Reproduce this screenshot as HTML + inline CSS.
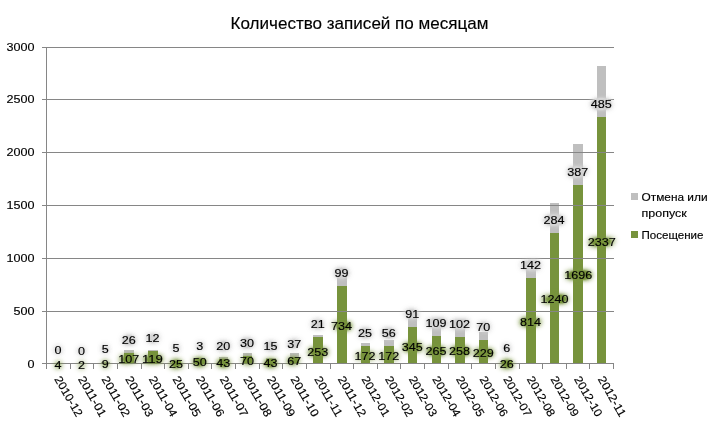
<!DOCTYPE html>
<html lang="ru"><head><meta charset="utf-8"><title>Количество записей по месяцам</title>
<style>
html,body{margin:0;padding:0;background:#fff}
svg{display:block}
text{font-family:"Liberation Sans",sans-serif;fill:#000;stroke:#000;stroke-width:0.15px}
.ax{font-size:11.5px}
.dl{font-size:11.5px;text-anchor:middle}
.gg{filter:url(#glowG)}
.gy{filter:url(#glowY)}
</style></head><body>
<svg width="717" height="428" viewBox="0 0 717 428">
<defs>
<filter id="glowG" x="-60%" y="-80%" width="220%" height="260%" color-interpolation-filters="sRGB">
<feGaussianBlur in="SourceAlpha" stdDeviation="4.0" result="b"/>
<feFlood flood-color="#77933c" result="c"/>
<feComposite in="c" in2="b" operator="in" result="g"/>
<feComponentTransfer in="g" result="g2"><feFuncA type="gamma" amplitude="42" exponent="2.2" offset="0"/></feComponentTransfer>
<feMerge><feMergeNode in="g2"/><feMergeNode in="SourceGraphic"/></feMerge>
</filter>
<filter id="glowY" x="-60%" y="-80%" width="220%" height="260%" color-interpolation-filters="sRGB">
<feGaussianBlur in="SourceAlpha" stdDeviation="4.0" result="b"/>
<feFlood flood-color="#d4d4d4" result="c"/>
<feComposite in="c" in2="b" operator="in" result="g"/>
<feComponentTransfer in="g" result="g2"><feFuncA type="gamma" amplitude="70" exponent="2.2" offset="0"/></feComponentTransfer>
<feMerge><feMergeNode in="g2"/><feMergeNode in="SourceGraphic"/></feMerge>
</filter>
</defs>
<rect width="717" height="428" fill="#fff"/>
<g>
<rect x="54" y="363.00" width="9" height="0.00" fill="#77933c"/>
<rect x="77" y="364.00" width="10" height="-1.00" fill="#77933c"/>
<rect x="101" y="362.00" width="9" height="1.00" fill="#bfbfbf"/>
<rect x="101" y="363.00" width="9" height="0.00" fill="#77933c"/>
<rect x="124" y="350.00" width="10" height="3.00" fill="#bfbfbf"/>
<rect x="124" y="353.00" width="10" height="10.00" fill="#77933c"/>
<rect x="148" y="350.00" width="10" height="1.00" fill="#bfbfbf"/>
<rect x="148" y="351.00" width="10" height="12.00" fill="#77933c"/>
<rect x="172" y="361.00" width="9" height="0.00" fill="#bfbfbf"/>
<rect x="172" y="361.00" width="9" height="2.00" fill="#77933c"/>
<rect x="195" y="358.00" width="10" height="1.00" fill="#bfbfbf"/>
<rect x="195" y="359.00" width="10" height="4.00" fill="#77933c"/>
<rect x="219" y="357.00" width="9" height="2.00" fill="#bfbfbf"/>
<rect x="219" y="359.00" width="9" height="4.00" fill="#77933c"/>
<rect x="243" y="353.00" width="9" height="3.00" fill="#bfbfbf"/>
<rect x="243" y="356.00" width="9" height="7.00" fill="#77933c"/>
<rect x="266" y="358.00" width="10" height="1.00" fill="#bfbfbf"/>
<rect x="266" y="359.00" width="10" height="4.00" fill="#77933c"/>
<rect x="290" y="353.00" width="9" height="4.00" fill="#bfbfbf"/>
<rect x="290" y="357.00" width="9" height="6.00" fill="#77933c"/>
<rect x="313" y="335.00" width="10" height="2.00" fill="#bfbfbf"/>
<rect x="313" y="337.00" width="10" height="26.00" fill="#77933c"/>
<rect x="337" y="276.00" width="10" height="10.00" fill="#bfbfbf"/>
<rect x="337" y="286.00" width="10" height="77.00" fill="#77933c"/>
<rect x="361" y="343.00" width="9" height="3.00" fill="#bfbfbf"/>
<rect x="361" y="346.00" width="9" height="17.00" fill="#77933c"/>
<rect x="384" y="340.00" width="10" height="6.00" fill="#bfbfbf"/>
<rect x="384" y="346.00" width="10" height="17.00" fill="#77933c"/>
<rect x="408" y="318.00" width="9" height="9.00" fill="#bfbfbf"/>
<rect x="408" y="327.00" width="9" height="36.00" fill="#77933c"/>
<rect x="432" y="324.00" width="9" height="12.00" fill="#bfbfbf"/>
<rect x="432" y="336.00" width="9" height="27.00" fill="#77933c"/>
<rect x="455" y="326.00" width="10" height="11.00" fill="#bfbfbf"/>
<rect x="455" y="337.00" width="10" height="26.00" fill="#77933c"/>
<rect x="479" y="332.00" width="9" height="8.00" fill="#bfbfbf"/>
<rect x="479" y="340.00" width="9" height="23.00" fill="#77933c"/>
<rect x="502" y="360.00" width="10" height="1.00" fill="#bfbfbf"/>
<rect x="502" y="361.00" width="10" height="2.00" fill="#77933c"/>
<rect x="526" y="263.00" width="10" height="15.00" fill="#bfbfbf"/>
<rect x="526" y="278.00" width="10" height="85.00" fill="#77933c"/>
<rect x="550" y="203.00" width="9" height="30.00" fill="#bfbfbf"/>
<rect x="550" y="233.00" width="9" height="130.00" fill="#77933c"/>
<rect x="573" y="144.00" width="10" height="41.00" fill="#bfbfbf"/>
<rect x="573" y="185.00" width="10" height="178.00" fill="#77933c"/>
<rect x="597" y="66.00" width="9" height="51.00" fill="#bfbfbf"/>
<rect x="597" y="117.00" width="9" height="246.00" fill="#77933c"/>
</g>
<g fill="#868686" shape-rendering="crispEdges">
<rect x="42" y="363" width="572" height="1"/>
<rect x="42" y="311" width="572" height="1"/>
<rect x="42" y="258" width="572" height="1"/>
<rect x="42" y="205" width="572" height="1"/>
<rect x="42" y="152" width="572" height="1"/>
<rect x="42" y="99" width="572" height="1"/>
<rect x="42" y="47" width="572" height="1"/>
<rect x="46" y="47" width="1" height="322"/>
<rect x="70" y="363" width="1" height="6"/>
<rect x="93" y="363" width="1" height="6"/>
<rect x="117" y="363" width="1" height="6"/>
<rect x="141" y="363" width="1" height="6"/>
<rect x="164" y="363" width="1" height="6"/>
<rect x="188" y="363" width="1" height="6"/>
<rect x="211" y="363" width="1" height="6"/>
<rect x="235" y="363" width="1" height="6"/>
<rect x="259" y="363" width="1" height="6"/>
<rect x="282" y="363" width="1" height="6"/>
<rect x="306" y="363" width="1" height="6"/>
<rect x="330" y="363" width="1" height="6"/>
<rect x="353" y="363" width="1" height="6"/>
<rect x="377" y="363" width="1" height="6"/>
<rect x="400" y="363" width="1" height="6"/>
<rect x="424" y="363" width="1" height="6"/>
<rect x="448" y="363" width="1" height="6"/>
<rect x="471" y="363" width="1" height="6"/>
<rect x="495" y="363" width="1" height="6"/>
<rect x="519" y="363" width="1" height="6"/>
<rect x="542" y="363" width="1" height="6"/>
<rect x="566" y="363" width="1" height="6"/>
<rect x="589" y="363" width="1" height="6"/>
<rect x="613" y="363" width="1" height="6"/>
</g>
<text class="ax" x="27.40" y="367.72" textLength="7.00" lengthAdjust="spacingAndGlyphs">0</text>
<text class="ax" x="13.40" y="314.87" textLength="21.00" lengthAdjust="spacingAndGlyphs">500</text>
<text class="ax" x="6.40" y="262.02" textLength="28.00" lengthAdjust="spacingAndGlyphs">1000</text>
<text class="ax" x="6.40" y="209.17" textLength="28.00" lengthAdjust="spacingAndGlyphs">1500</text>
<text class="ax" x="6.40" y="156.32" textLength="28.00" lengthAdjust="spacingAndGlyphs">2000</text>
<text class="ax" x="6.40" y="103.47" textLength="28.00" lengthAdjust="spacingAndGlyphs">2500</text>
<text class="ax" x="6.40" y="50.62" textLength="28.00" lengthAdjust="spacingAndGlyphs">3000</text>
<text class="dl gg" x="57.91" y="368.91" textLength="7.00" lengthAdjust="spacingAndGlyphs">4</text>
<text class="dl gg" x="81.54" y="369.01" textLength="7.00" lengthAdjust="spacingAndGlyphs">2</text>
<text class="dl gg" x="105.16" y="368.24" textLength="7.00" lengthAdjust="spacingAndGlyphs">9</text>
<text class="dl gg" x="128.79" y="362.88" textLength="21.00" lengthAdjust="spacingAndGlyphs">107</text>
<text class="dl gg" x="152.41" y="363.25" textLength="21.00" lengthAdjust="spacingAndGlyphs">119</text>
<text class="dl gg" x="176.04" y="367.70" textLength="14.00" lengthAdjust="spacingAndGlyphs">25</text>
<text class="dl gg" x="199.66" y="365.78" textLength="14.00" lengthAdjust="spacingAndGlyphs">50</text>
<text class="dl gg" x="223.29" y="366.75" textLength="14.00" lengthAdjust="spacingAndGlyphs">43</text>
<text class="dl gg" x="246.91" y="364.83" textLength="14.00" lengthAdjust="spacingAndGlyphs">70</text>
<text class="dl gg" x="270.54" y="367.25" textLength="14.00" lengthAdjust="spacingAndGlyphs">43</text>
<text class="dl gg" x="294.16" y="364.89" textLength="14.00" lengthAdjust="spacingAndGlyphs">67</text>
<text class="dl gg" x="317.79" y="355.89" textLength="21.00" lengthAdjust="spacingAndGlyphs">253</text>
<text class="dl gg" x="341.41" y="329.66" textLength="21.00" lengthAdjust="spacingAndGlyphs">734</text>
<text class="dl gg" x="365.04" y="360.26" textLength="21.00" lengthAdjust="spacingAndGlyphs">172</text>
<text class="dl gg" x="388.66" y="360.26" textLength="21.00" lengthAdjust="spacingAndGlyphs">172</text>
<text class="dl gg" x="412.29" y="351.35" textLength="21.00" lengthAdjust="spacingAndGlyphs">345</text>
<text class="dl gg" x="435.91" y="354.66" textLength="21.00" lengthAdjust="spacingAndGlyphs">265</text>
<text class="dl gg" x="459.54" y="355.03" textLength="21.00" lengthAdjust="spacingAndGlyphs">258</text>
<text class="dl gg" x="483.16" y="357.26" textLength="21.00" lengthAdjust="spacingAndGlyphs">229</text>
<text class="dl gg" x="506.79" y="368.15" textLength="14.00" lengthAdjust="spacingAndGlyphs">26</text>
<text class="dl gg" x="530.41" y="326.25" textLength="21.00" lengthAdjust="spacingAndGlyphs">814</text>
<text class="dl gg" x="554.64" y="302.91" textLength="28.00" lengthAdjust="spacingAndGlyphs">1240</text>
<text class="dl gg" x="578.26" y="279.09" textLength="28.00" lengthAdjust="spacingAndGlyphs">1696</text>
<text class="dl gg" x="601.89" y="246.44" textLength="28.00" lengthAdjust="spacingAndGlyphs">2337</text>
<text class="dl gy" x="57.91" y="354.42" textLength="7.00" lengthAdjust="spacingAndGlyphs">0</text>
<text class="dl gy" x="81.54" y="354.92" textLength="7.00" lengthAdjust="spacingAndGlyphs">0</text>
<text class="dl gy" x="105.16" y="353.42" textLength="7.00" lengthAdjust="spacingAndGlyphs">5</text>
<text class="dl gy" x="128.79" y="344.22" textLength="14.00" lengthAdjust="spacingAndGlyphs">26</text>
<text class="dl gy" x="152.41" y="342.42" textLength="14.00" lengthAdjust="spacingAndGlyphs">12</text>
<text class="dl gy" x="176.04" y="352.02" textLength="7.00" lengthAdjust="spacingAndGlyphs">5</text>
<text class="dl gy" x="199.66" y="350.12" textLength="7.00" lengthAdjust="spacingAndGlyphs">3</text>
<text class="dl gy" x="223.29" y="350.12" textLength="14.00" lengthAdjust="spacingAndGlyphs">20</text>
<text class="dl gy" x="246.91" y="347.12" textLength="14.00" lengthAdjust="spacingAndGlyphs">30</text>
<text class="dl gy" x="270.54" y="350.32" textLength="14.00" lengthAdjust="spacingAndGlyphs">15</text>
<text class="dl gy" x="294.16" y="348.12" textLength="14.00" lengthAdjust="spacingAndGlyphs">37</text>
<text class="dl gy" x="317.79" y="328.12" textLength="14.00" lengthAdjust="spacingAndGlyphs">21</text>
<text class="dl gy" x="341.41" y="277.12" textLength="14.00" lengthAdjust="spacingAndGlyphs">99</text>
<text class="dl gy" x="365.04" y="337.12" textLength="14.00" lengthAdjust="spacingAndGlyphs">25</text>
<text class="dl gy" x="388.66" y="337.12" textLength="14.00" lengthAdjust="spacingAndGlyphs">56</text>
<text class="dl gy" x="412.29" y="318.12" textLength="14.00" lengthAdjust="spacingAndGlyphs">91</text>
<text class="dl gy" x="435.91" y="327.22" textLength="21.00" lengthAdjust="spacingAndGlyphs">109</text>
<text class="dl gy" x="459.54" y="328.12" textLength="21.00" lengthAdjust="spacingAndGlyphs">102</text>
<text class="dl gy" x="483.16" y="331.02" textLength="14.00" lengthAdjust="spacingAndGlyphs">70</text>
<text class="dl gy" x="506.79" y="352.12" textLength="7.00" lengthAdjust="spacingAndGlyphs">6</text>
<text class="dl gy" x="530.41" y="268.92" textLength="21.00" lengthAdjust="spacingAndGlyphs">142</text>
<text class="dl gy" x="554.04" y="224.02" textLength="21.00" lengthAdjust="spacingAndGlyphs">284</text>
<text class="dl gy" x="577.66" y="176.12" textLength="21.00" lengthAdjust="spacingAndGlyphs">387</text>
<text class="dl gy" x="601.29" y="107.72" textLength="21.00" lengthAdjust="spacingAndGlyphs">485</text>
<text class="ax" transform="translate(54.11,379.0) rotate(60)" textLength="44.6" lengthAdjust="spacingAndGlyphs">2010-12</text>
<text class="ax" transform="translate(77.74,379.0) rotate(60)" textLength="44.6" lengthAdjust="spacingAndGlyphs">2011-01</text>
<text class="ax" transform="translate(101.36,379.0) rotate(60)" textLength="44.6" lengthAdjust="spacingAndGlyphs">2011-02</text>
<text class="ax" transform="translate(124.99,379.0) rotate(60)" textLength="44.6" lengthAdjust="spacingAndGlyphs">2011-03</text>
<text class="ax" transform="translate(148.61,379.0) rotate(60)" textLength="44.6" lengthAdjust="spacingAndGlyphs">2011-04</text>
<text class="ax" transform="translate(172.24,379.0) rotate(60)" textLength="44.6" lengthAdjust="spacingAndGlyphs">2011-05</text>
<text class="ax" transform="translate(195.86,379.0) rotate(60)" textLength="44.6" lengthAdjust="spacingAndGlyphs">2011-06</text>
<text class="ax" transform="translate(219.49,379.0) rotate(60)" textLength="44.6" lengthAdjust="spacingAndGlyphs">2011-07</text>
<text class="ax" transform="translate(243.11,379.0) rotate(60)" textLength="44.6" lengthAdjust="spacingAndGlyphs">2011-08</text>
<text class="ax" transform="translate(266.74,379.0) rotate(60)" textLength="44.6" lengthAdjust="spacingAndGlyphs">2011-09</text>
<text class="ax" transform="translate(290.36,379.0) rotate(60)" textLength="44.6" lengthAdjust="spacingAndGlyphs">2011-10</text>
<text class="ax" transform="translate(313.99,379.0) rotate(60)" textLength="44.6" lengthAdjust="spacingAndGlyphs">2011-11</text>
<text class="ax" transform="translate(337.61,379.0) rotate(60)" textLength="44.6" lengthAdjust="spacingAndGlyphs">2011-12</text>
<text class="ax" transform="translate(361.24,379.0) rotate(60)" textLength="44.6" lengthAdjust="spacingAndGlyphs">2012-01</text>
<text class="ax" transform="translate(384.86,379.0) rotate(60)" textLength="44.6" lengthAdjust="spacingAndGlyphs">2012-02</text>
<text class="ax" transform="translate(408.49,379.0) rotate(60)" textLength="44.6" lengthAdjust="spacingAndGlyphs">2012-03</text>
<text class="ax" transform="translate(432.11,379.0) rotate(60)" textLength="44.6" lengthAdjust="spacingAndGlyphs">2012-04</text>
<text class="ax" transform="translate(455.74,379.0) rotate(60)" textLength="44.6" lengthAdjust="spacingAndGlyphs">2012-05</text>
<text class="ax" transform="translate(479.36,379.0) rotate(60)" textLength="44.6" lengthAdjust="spacingAndGlyphs">2012-06</text>
<text class="ax" transform="translate(502.99,379.0) rotate(60)" textLength="44.6" lengthAdjust="spacingAndGlyphs">2012-07</text>
<text class="ax" transform="translate(526.61,379.0) rotate(60)" textLength="44.6" lengthAdjust="spacingAndGlyphs">2012-08</text>
<text class="ax" transform="translate(550.24,379.0) rotate(60)" textLength="44.6" lengthAdjust="spacingAndGlyphs">2012-09</text>
<text class="ax" transform="translate(573.86,379.0) rotate(60)" textLength="44.6" lengthAdjust="spacingAndGlyphs">2012-10</text>
<text class="ax" transform="translate(597.49,379.0) rotate(60)" textLength="44.6" lengthAdjust="spacingAndGlyphs">2012-11</text>
<text x="230.5" y="29.2" font-size="17" stroke-width="0.2" textLength="258" lengthAdjust="spacingAndGlyphs">Количество записей по месяцам</text>
<rect x="631" y="193" width="7" height="7" fill="#bfbfbf"/>
<rect x="631" y="231" width="7" height="7" fill="#77933c"/>
<text class="ax" x="641.5" y="201.1" textLength="66" lengthAdjust="spacingAndGlyphs">Отмена или</text>
<text class="ax" x="641.5" y="217.1" textLength="45.2" lengthAdjust="spacingAndGlyphs">пропуск</text>
<text class="ax" x="641.5" y="239" textLength="62" lengthAdjust="spacingAndGlyphs">Посещение</text>
</svg></body></html>
